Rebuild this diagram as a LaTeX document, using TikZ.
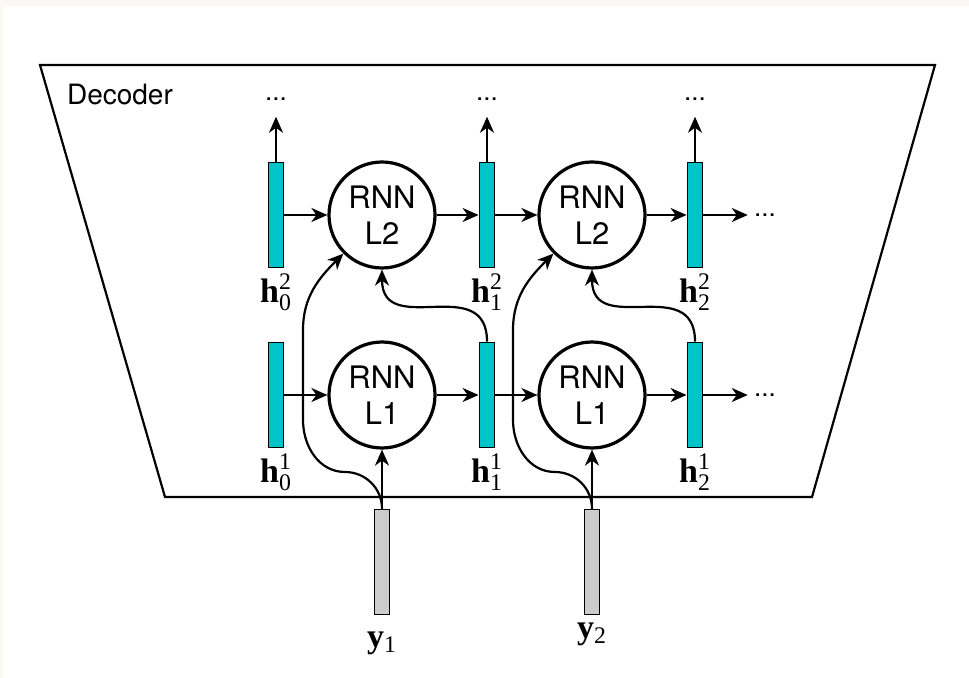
\documentclass[tikz,border=0pt]{standalone}
\usepackage{amsmath}
\usepackage{fontspec}
\setsansfont{TeX Gyre Heros}
\newfontfamily\tnr{Liberation Serif}
\usepackage{tikz}
\usetikzlibrary{arrows.meta, positioning}
\usepackage{xcolor}
\definecolor{hiddencolor}{HTML}{00C4C8}
\definecolor{inputcolor}{HTML}{CCCCCC}
\definecolor{pagecolor}{HTML}{FCF8F3}
\newcommand{\vlab}[3]{{\tnr\textbf{#1}}$^{\text{\tnr #3}}_{\text{\tnr #2}}$}

\begin{document}
\begin{tikzpicture}[x=0.5pt, y=-0.5pt,
    rnn/.style={circle, draw, line width=1.6pt, minimum size=53pt, inner sep=0pt, font=\sffamily\fontsize{15.5}{18}\selectfont, align=center},
    hidden/.style={rectangle, draw, line width=0.9pt, fill=hiddencolor, minimum width=7.5pt, minimum height=52.5pt, inner sep=0pt},
    input/.style={hidden, fill=inputcolor},
    conn/.style={-{Stealth[length=8pt, width=7pt, inset=2.5pt]}, line width=1.1pt},
    vec/.style={font=\fontsize{17}{19}\selectfont, inner sep=0pt},
    more/.style={font=\sffamily\fontsize{13}{15}\selectfont, inner xsep=3pt, inner ysep=8pt},
]

\fill[pagecolor] (0,0) rectangle (969,678);
\fill[white] (3,6) rectangle (969,678);
\useasboundingbox (0,0) rectangle (969,678);

\draw[line width=1.1pt] (40,65) -- (935,65) -- (812,497) -- (165,497) -- cycle;
\node[anchor=west, font=\sffamily\fontsize{14}{16}\selectfont] (decoder) at (60,95) {Decoder};

\node[hidden] (h02) at (276,215) {};
\node[hidden] (h12) at (487,215) {};
\node[hidden] (h22) at (695,215) {};
\node[hidden] (h01) at (276,395) {};
\node[hidden] (h11) at (487,395) {};
\node[hidden] (h21) at (695,395) {};

\node[rnn] (rnn12) at (382,215) {RNN\\L2};
\node[rnn] (rnn22) at (592,215) {RNN\\L2};
\node[rnn] (rnn11) at (382,395) {RNN\\L1};
\node[rnn] (rnn21) at (592,395) {RNN\\L1};

\node[input] (y1) at (382,562) {};
\node[input] (y2) at (592,562) {};

\node[vec, below=2.5pt of h02] (lh02) {\vlab{h}{0}{2}};
\node[vec, below=2.5pt of h12] (lh12) {\vlab{h}{1}{2}};
\node[vec, below=2.5pt of h22] (lh22) {\vlab{h}{2}{2}};
\node[vec, below=2.5pt of h01] (lh01) {\vlab{h}{0}{1}};
\node[vec, below=2.5pt of h11] (lh11) {\vlab{h}{1}{1}};
\node[vec, below=2.5pt of h21] (lh21) {\vlab{h}{2}{1}};
\node[vec] (ly1) at (382,643) {{\tnr\textbf{y}}$_{\text{\tnr 1}}$};
\node[vec] (ly2) at (592,634) {{\tnr\textbf{y}}$_{\text{\tnr 2}}$};

\node[more] (up0) at (276,99) {...};
\node[more] (up1) at (487,99) {...};
\node[more] (up2) at (695,99) {...};
\node[more] (next2) at (765,215) {...};
\node[more] (next1) at (765,395) {...};

\draw[conn] (h02) -- (up0);
\draw[conn] (h12) -- (up1);
\draw[conn] (h22) -- (up2);

\draw[conn] (h02) -- (rnn12);
\draw[conn] (rnn12) -- (h12);
\draw[conn] (h12) -- (rnn22);
\draw[conn] (rnn22) -- (h22);
\draw[conn] (h22) -- (next2);

\draw[conn] (h01) -- (rnn11);
\draw[conn] (rnn11) -- (h11);
\draw[conn] (h11) -- (rnn21);
\draw[conn] (rnn21) -- (h21);
\draw[conn] (h21) -- (next1);

\draw[conn] (y1) -- (rnn11);
\draw[conn] (y2) -- (rnn21);
\draw[conn] (y1.north) to[out=90, in=0] (345,472) to[out=180, in=-90] (303,420) -- (303,330) to[out=90, in=225] (rnn12.225);
\draw[conn] (y2.north) to[out=90, in=0] (555,472) to[out=180, in=-90] (513,420) -- (513,330) to[out=90, in=225] (rnn22.225);
\draw[conn] (h11.north) to[out=90, in=-90, looseness=1.4] (rnn12.south);
\draw[conn] (h21.north) to[out=90, in=-90, looseness=1.4] (rnn22.south);

\end{tikzpicture}
\end{document}
